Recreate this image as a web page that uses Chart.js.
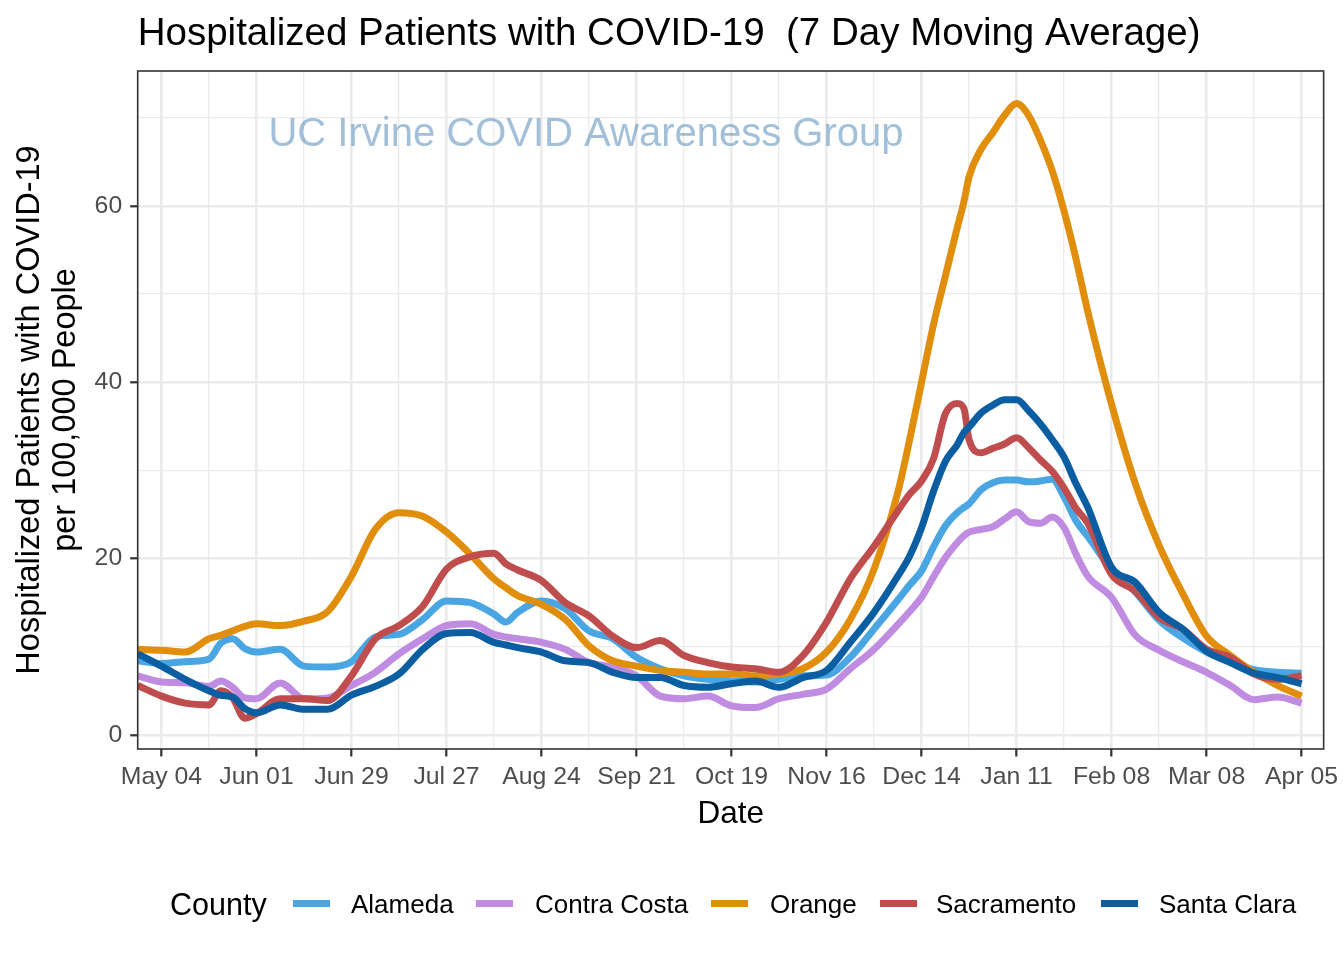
<!DOCTYPE html>
<html>
<head>
<meta charset="utf-8">
<script src="https://cdn.jsdelivr.net/npm/chart.js@4.4.0/dist/chart.umd.min.js"></script>
<style>
html,body{margin:0;padding:0;background:#ffffff;}
#wrap{position:relative;width:1344px;height:960px;overflow:hidden;}
#c{position:absolute;left:0;top:0;}
#legend{position:absolute;left:0;top:0;width:1344px;height:960px;pointer-events:none;font-family:'Liberation Sans',Arial,sans-serif;color:#000;}
#legend span{position:absolute;white-space:nowrap;}
#legend i{position:absolute;display:block;}
</style>
</head>
<body>
<div id="wrap">
<canvas id="c" width="1344" height="960"></canvas>
<div id="legend"></div>
</div>
<script>
// ---------------- DATA ----------------
// day offsets from May 04, 2020
const days = [-7, 0, 7, 14, 17.5, 21, 24.5, 28, 35, 42, 49, 56, 63, 70, 77, 84, 91, 98, 101.5, 105,
  112, 119, 126, 133, 140, 147, 154, 161, 168, 175, 182, 189, 196, 203, 210, 217, 220.5, 224, 227.5, 231,
  234.5, 236.5, 238, 241.5, 245, 248.5, 252, 255.5, 259, 262.5, 266, 269.5, 273, 280, 287, 294, 301, 308,
  315, 322, 329, 336];

const alameda = [8.4, 8.1, 8.3, 8.6, 10.4, 10.9, 9.8, 9.4, 9.7, 7.8, 7.7, 8.3, 11.1, 11.4, 13.1, 15.2, 15.0, 13.7, 12.8, 13.9,
  15.2, 14.3, 11.8, 10.9, 8.8, 7.5, 6.7, 6.3, 6.1, 6.0, 6.3, 6.7, 6.8, 8.8, 12.0, 15.3, 17.0, 18.6, 21.3, 23.7,
  25.2, 25.8, 26.2, 27.8, 28.6, 28.9, 28.9, 28.7, 28.8, 29.0, 27.0, 24.3, 22.5, 18.8, 16.2, 13.0, 11.0, 9.4,
  8.3, 7.4, 7.1, 7.0];

const contraCosta = [6.7, 6.0, 5.9, 5.5, 6.1, 5.4, 4.2, 4.1, 5.9, 4.1, 4.2, 5.6, 7.1, 9.2, 10.9, 12.4, 12.6, 11.4, 11.1, 10.9,
  10.5, 9.7, 8.2, 7.7, 6.7, 4.4, 4.1, 4.4, 3.3, 3.1, 4.1, 4.6, 5.2, 7.5, 9.7, 12.5, 14.0, 15.6, 17.9, 20.1,
  21.8, 22.6, 23.0, 23.3, 23.6, 24.5, 25.3, 24.2, 24.0, 24.7, 23.5, 20.5, 18.0, 15.6, 11.3, 9.6, 8.3, 7.1,
  5.6, 4.0, 4.3, 3.6];

const orange = [9.7, 9.6, 9.4, 10.9, 11.3, 11.8, 12.3, 12.6, 12.4, 12.9, 14.0, 18.0, 23.3, 25.2, 24.8, 23.0, 20.5, 17.7, 16.7, 15.8,
  14.8, 13.1, 10.1, 8.4, 7.8, 7.3, 7.1, 6.9, 6.9, 6.7, 6.9, 7.5, 9.4, 13.1, 18.8, 27.5, 33.5, 40.0, 46.5, 52.0,
  57.5, 60.5, 63.3, 66.4, 68.3, 70.3, 71.6, 70.3, 67.5, 64.0, 59.4, 54.0, 48.0, 37.5, 28.5, 21.5, 16.0, 11.2,
  9.0, 7.1, 5.6, 4.4];

const sacramento = [5.6, 4.4, 3.6, 3.4, 5.0, 4.2, 1.9, 2.4, 4.1, 4.1, 3.9, 6.7, 10.9, 12.4, 14.6, 18.8, 20.2, 20.6, 19.4, 18.7,
  17.5, 15.0, 13.5, 11.2, 9.9, 10.7, 9.0, 8.2, 7.7, 7.5, 7.1, 9.0, 12.8, 17.7, 21.4, 25.4, 27.3, 28.8, 31.3, 36.4,
  37.6, 37.0, 33.5, 32.0, 32.5, 33.0, 33.7, 32.6, 31.2, 29.9, 28.0, 25.7, 24.0, 18.2, 16.3, 13.3, 12.0, 9.7,
  8.8, 6.9, 6.3, 6.7];

const santaClara = [9.2, 7.8, 6.3, 5.0, 4.5, 4.3, 3.0, 2.5, 3.4, 2.9, 2.9, 4.5, 5.5, 6.9, 9.7, 11.5, 11.6, 10.5, 10.2, 9.9,
  9.4, 8.4, 8.2, 7.1, 6.5, 6.5, 5.6, 5.4, 5.8, 6.1, 5.4, 6.5, 7.3, 10.5, 13.9, 18.0, 20.3, 23.5, 27.6, 31.0,
  32.9, 34.3, 34.9, 36.5, 37.4, 38.0, 38.0, 36.8, 35.3, 33.5, 31.5, 28.5, 25.8, 19.0, 17.3, 13.9, 12.0, 9.5,
  8.2, 7.0, 6.5, 5.8];

const counties = ['Alameda', 'Contra Costa', 'Orange', 'Sacramento', 'Santa Clara'];
const seriesValues = [alameda, contraCosta, orange, sacramento, santaClara];

const xTickDays = [0, 28, 56, 84, 112, 140, 168, 196, 224, 252, 280, 308, 336];
const xTickLabels = ['May 04', 'Jun 01', 'Jun 29', 'Jul 27', 'Aug 24', 'Sep 21', 'Oct 19', 'Nov 16', 'Dec 14', 'Jan 11', 'Feb 08', 'Mar 08', 'Apr 05'];
const yTickValues = [0, 20, 40, 60];
const yTickLabels = ['0', '20', '40', '60'];

const titleText = 'Hospitalized Patients with COVID-19  (7 Day Moving Average)';
const yTitle = ['Hospitalized Patients with COVID-19', 'per 100,000 People'];
const xTitle = 'Date';
const legendTitle = 'County';
const watermark = 'UC Irvine COVID Awareness Group';

// ---------------- STYLE ----------------
const colors = ['#4AA6E3', '#C08CE2', '#E08E0B', '#C04D4D', '#0B5EA1'];
const FONT = "'Liberation Sans', Arial, Helvetica, sans-serif";
Chart.defaults.font.family = FONT;

const xGrid = []; for (let d = 0; d <= 336; d += 14) xGrid.push(d);
const yGrid = []; for (let v = 0; v <= 70; v += 10) yGrid.push(v);

const datasets = counties.map((name, k) => ({
  label: name,
  data: days.map((d, i) => ({ x: d, y: seriesValues[k][i] })),
  borderColor: colors[k],
  backgroundColor: colors[k],
  borderWidth: 7,
  pointRadius: 0,
  pointHoverRadius: 0,
  fill: false,
  cubicInterpolationMode: 'monotone',
  borderJoinStyle: 'round',
  clip: 0,
  order: counties.length - k
}));

const panelPlugin = {
  id: 'panel',
  beforeDatasetsDraw(chart) {
    const { ctx, scales } = chart;
    ctx.save();
    ctx.font = '40px ' + FONT;
    ctx.fillStyle = 'rgba(70,130,180,0.5)';
    ctx.textAlign = 'center';
    ctx.textBaseline = 'middle';
    ctx.fillText(watermark, scales.x.getPixelForValue(125.1), scales.y.getPixelForValue(68.1));
    ctx.restore();
  },
  afterDatasetsDraw(chart) {
    const { ctx, chartArea: a } = chart;
    ctx.save();
    ctx.strokeStyle = '#333333';
    ctx.lineWidth = 1.6;
    ctx.strokeRect(a.left, a.top, a.right - a.left, a.bottom - a.top);
    ctx.restore();
  }
};

new Chart(document.getElementById('c'), {
  type: 'line',
  data: { datasets },
  plugins: [panelPlugin],
  options: {
    responsive: false,
    animation: false,
    devicePixelRatio: 1,
    layout: { padding: { left: 0, right: 18, top: 0, bottom: 127 } },
    plugins: {
      legend: { display: false },
      tooltip: { enabled: false },
      title: {
        display: true, text: titleText, align: 'start', fullSize: false, color: '#000000',
        font: { size: 38.5, weight: 'normal', lineHeight: 1.2 },
        padding: { top: 11.5, bottom: 13.3 }
      }
    },
    scales: {
      x: {
        type: 'linear', min: -7, max: 342.5,
        afterBuildTicks: s => { s.ticks = xGrid.map(v => ({ value: v })); },
        afterFit: s => { s.height = 84; },
        ticks: {
          autoSkip: false, maxRotation: 0, minRotation: 0, padding: 5.5, color: '#4D4D4D',
          font: { size: 24.8 },
          callback: v => { const i = xTickDays.indexOf(v); return i >= 0 ? xTickLabels[i] : ''; }
        },
        grid: {
          color: '#EBEBEB',
          lineWidth: c => (xTickDays.includes(c.tick.value) ? 2.6 : 1.3),
          drawTicks: true, tickLength: 7.5, tickWidth: 2.2,
          tickColor: c => (xTickDays.includes(c.tick.value) ? '#333333' : 'rgba(0,0,0,0)')
        },
        border: { display: false },
        title: { display: true, text: xTitle, color: '#000000', font: { size: 31.5, lineHeight: 1.2 }, padding: { top: 0, bottom: 0 } }
      },
      y: {
        type: 'linear', min: -1.6, max: 75.3,
        afterBuildTicks: s => { s.ticks = yGrid.map(v => ({ value: v })); },
        afterFit: s => { s.width = 137.7; },
        ticks: {
          padding: 8, color: '#4D4D4D', font: { size: 24.8 },
          callback: v => { const i = yTickValues.indexOf(v); return i >= 0 ? yTickLabels[i] : ''; }
        },
        grid: {
          color: '#EBEBEB',
          lineWidth: c => (yTickValues.includes(c.tick.value) ? 2.6 : 1.3),
          drawTicks: true, tickLength: 7.5, tickWidth: 2.2,
          tickColor: c => (yTickValues.includes(c.tick.value) ? '#333333' : 'rgba(0,0,0,0)')
        },
        border: { display: false },
        title: { display: true, text: yTitle, color: '#000000', font: { size: 32.5, lineHeight: 1.1 }, padding: { top: 12.5, bottom: 0 } }
      }
    }
  }
});

// ---------------- LEGEND (HTML text) ----------------
const legend = document.getElementById('legend');
const keyLefts = [293, 476, 711, 880, 1101];
const labelLefts = [351, 535, 770, 936, 1159];
const t = document.createElement('span');
t.textContent = legendTitle;
t.style.cssText = 'left:170px;top:888.5px;font-size:30.5px;line-height:30.5px;';
legend.appendChild(t);
counties.forEach((name, k) => {
  const key = document.createElement('i');
  key.style.cssText = `left:${keyLefts[k]}px;top:900px;width:37px;height:7.3px;background:${colors[k]};`;
  legend.appendChild(key);
  const s = document.createElement('span');
  s.textContent = name;
  s.style.cssText = `left:${labelLefts[k]}px;top:891px;font-size:26px;line-height:26px;`;
  legend.appendChild(s);
});
</script>
</body>
</html>
